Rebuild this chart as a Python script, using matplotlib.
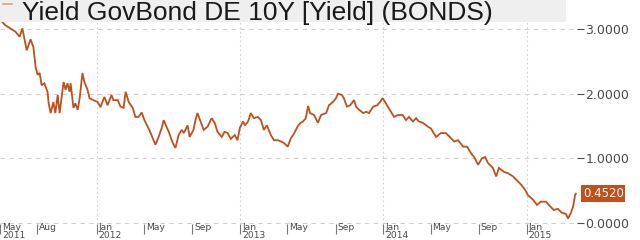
import matplotlib
matplotlib.use("Agg")
import matplotlib.pyplot as plt
import matplotlib.transforms as mtransforms
from matplotlib.patches import Rectangle
from matplotlib.lines import Line2D
import pandas as pd

# Bund 10Y yield
dates = [
    "2011-04-30", "2011-05-13", "2011-05-26", "2011-06-08", "2011-06-19", "2011-06-26",
    "2011-07-07", "2011-07-17", "2011-07-24", "2011-07-30", "2011-08-04", "2011-08-09",
    "2011-08-14", "2011-08-21", "2011-08-29", "2011-09-01", "2011-09-06", "2011-09-13",
    "2011-09-18", "2011-09-24", "2011-09-29", "2011-10-09", "2011-10-14", "2011-10-19",
    "2011-10-24", "2011-10-27", "2011-11-03", "2011-11-08", "2011-11-14", "2011-11-19",
    "2011-11-26", "2011-12-01", "2011-12-09", "2011-12-14", "2011-12-24",
    "2012-01-04", "2012-01-11", "2012-01-21", "2012-01-29", "2012-02-08", "2012-02-13",
    "2012-02-24", "2012-03-02", "2012-03-10", "2012-03-15", "2012-03-23", "2012-04-02",
    "2012-04-09", "2012-04-17", "2012-04-25", "2012-05-02", "2012-05-15", "2012-05-30",
    "2012-06-07", "2012-06-15", "2012-06-20", "2012-06-27", "2012-07-03", "2012-07-13",
    "2012-07-20", "2012-07-28", "2012-08-05", "2012-08-10", "2012-08-20", "2012-08-25",
    "2012-09-04", "2012-09-09", "2012-09-14", "2012-09-22", "2012-09-30", "2012-10-10",
    "2012-10-20", "2012-10-28", "2012-11-04", "2012-11-15", "2012-11-22", "2012-11-30",
    "2012-12-08", "2012-12-18", "2012-12-25", "2012-12-31",
    "2013-01-08", "2013-01-13", "2013-01-21", "2013-01-28", "2013-02-05", "2013-02-15",
    "2013-02-23", "2013-03-02", "2013-03-10", "2013-03-20", "2013-03-28", "2013-04-07",
    "2013-04-15", "2013-04-22", "2013-05-02", "2013-05-10", "2013-05-17", "2013-05-28",
    "2013-06-04", "2013-06-10", "2013-06-17", "2013-06-23", "2013-06-28", "2013-07-08",
    "2013-07-18", "2013-07-26", "2013-08-08", "2013-08-15", "2013-08-25", "2013-09-02",
    "2013-09-07", "2013-09-17", "2013-09-22", "2013-09-30", "2013-10-08", "2013-10-18",
    "2013-10-23", "2013-10-31", "2013-11-10", "2013-11-18", "2013-11-25", "2013-12-06",
    "2013-12-16", "2013-12-23", "2013-12-30",
    "2014-01-07", "2014-01-17", "2014-01-28", "2014-02-07", "2014-02-19", "2014-02-27",
    "2014-03-07", "2014-03-17", "2014-03-25", "2014-04-01", "2014-04-11", "2014-04-24",
    "2014-05-02", "2014-05-15", "2014-05-27", "2014-06-09", "2014-06-19", "2014-06-30",
    "2014-07-10", "2014-07-23", "2014-08-02", "2014-08-12", "2014-08-20", "2014-08-30",
    "2014-09-09", "2014-09-17", "2014-09-24", "2014-10-07", "2014-10-15", "2014-10-22",
    "2014-11-04", "2014-11-14", "2014-11-27", "2014-12-07", "2014-12-18", "2014-12-28",
    "2015-01-04", "2015-01-17", "2015-01-27", "2015-02-06", "2015-02-19", "2015-02-26",
    "2015-03-11", "2015-03-21", "2015-03-31", "2015-04-11", "2015-04-16", "2015-04-23",
    "2015-04-29", "2015-05-04", "2015-05-06",
]
yields = [
    3.15, 3.06, 3.01, 2.96, 2.88, 3.01,
    2.67, 2.84, 2.72, 2.40, 2.29, 2.32,
    2.13, 2.16, 2.03, 1.85, 1.70, 1.87,
    1.70, 1.98, 1.70, 2.18, 2.06, 2.16,
    2.03, 2.16, 1.78, 1.85, 1.75, 1.93,
    2.32, 2.18, 2.06, 1.93, 1.90,
    1.87, 1.79, 1.95, 1.82, 1.98, 1.90,
    1.90, 1.80, 1.78, 2.03, 1.87, 1.78,
    1.64, 1.64, 1.71, 1.59, 1.43, 1.21,
    1.33, 1.47, 1.59, 1.49, 1.41, 1.24,
    1.16, 1.36, 1.44, 1.39, 1.51, 1.33,
    1.44, 1.59, 1.70, 1.57, 1.44, 1.49,
    1.62, 1.55, 1.41, 1.33, 1.41, 1.39,
    1.30, 1.36, 1.28, 1.47,
    1.57, 1.51, 1.57, 1.70, 1.62, 1.64,
    1.59, 1.44, 1.51, 1.36, 1.28, 1.28,
    1.26, 1.24, 1.18, 1.31, 1.37, 1.50,
    1.55, 1.57, 1.62, 1.81, 1.70, 1.67,
    1.55, 1.67, 1.70, 1.82, 1.87, 1.93,
    2.00, 1.98, 1.93, 1.80, 1.82, 1.90,
    1.80, 1.75, 1.70, 1.72, 1.70, 1.80,
    1.82, 1.87, 1.93,
    1.85, 1.75, 1.64, 1.67, 1.67, 1.59,
    1.64, 1.57, 1.62, 1.57, 1.55, 1.49,
    1.46, 1.33, 1.39, 1.39, 1.33, 1.26,
    1.28, 1.18, 1.18, 1.08, 1.02, 0.90,
    1.00, 1.02, 0.93, 0.85, 0.72, 0.85,
    0.79, 0.77, 0.72, 0.66, 0.59, 0.51,
    0.43, 0.36, 0.28, 0.33, 0.33, 0.28,
    0.20, 0.22, 0.16, 0.14, 0.07, 0.15,
    0.25, 0.43, 0.452,
]

tick_dates = ["2011-05-01", "2011-08-01", "2012-01-01", "2012-05-01", "2012-09-01",
              "2013-01-01", "2013-05-01", "2013-09-01", "2014-01-01", "2014-05-01",
              "2014-09-01", "2015-01-01"]
tick_labels = ["May\n2011", "Aug", "Jan\n2012", "May", "Sep", "Jan\n2013", "May", "Sep",
               "Jan\n2014", "May", "Sep", "Jan\n2015"]
year_lines = ["2012-01-01", "2013-01-01", "2014-01-01", "2015-01-01"]
y_ticks = [0, 1, 2, 3]
title = "Yield GovBond DE 10Y [Yield] (BONDS)"

line_col = "#c0501c"
grid_col = "#cfcfcf"
txt_col = "#4a4a4a"

x = pd.to_datetime(dates)

fig = plt.figure(figsize=(6.4, 2.4), dpi=100)
fig.patch.set_facecolor("white")

# title band
fig.patches.append(Rectangle((0, 218 / 240), 566 / 640, 22 / 240, transform=fig.transFigure,
                             facecolor="#efefef", edgecolor="none", zorder=0))
fig.lines.append(Line2D([3 / 640, 12 / 640], [1 - 4 / 240, 1 - 4 / 240], transform=fig.transFigure,
                        color="#d9a07f", lw=1.2))
fig.text(22 / 640, 1 - 20 / 240, title, fontsize=19, family="Liberation Sans",
         color="#1a1a1a", va="baseline", ha="left")

ax = fig.add_axes([0, 16 / 240, 577 / 640, 209 / 240])
ax.set_facecolor("none")
ax.plot(x, yields, color=line_col, lw=1.3, solid_joinstyle="miter", zorder=3)

ax.set_xlim(pd.Timestamp("2011-04-30"), pd.Timestamp("2015-05-09"))
ax.set_ylim(-0.0155, 3.216)

for s in ax.spines.values():
    s.set_visible(False)

for v in y_ticks:
    ax.axhline(v, color=grid_col, lw=0.8, ls=(0, (4, 4)), zorder=1)
for d in year_lines:
    ax.axvline(pd.Timestamp(d), color=grid_col, lw=0.8, ls=(0, (1.5, 2.5)), zorder=1)

ax.yaxis.tick_right()
ax.set_yticks(y_ticks)
ax.set_yticklabels(["%.4f" % v for v in y_ticks])
ax.tick_params(axis="y", length=5, width=0.8, color=txt_col, pad=1,
               labelsize=9, labelcolor=txt_col)

ax.set_xticks(pd.to_datetime(tick_dates))
ax.set_xticklabels(tick_labels)
ax.tick_params(axis="x", length=7, width=0.8, color="#777777", pad=-7.5,
               labelsize=6.6, labelcolor=txt_col)
offset = mtransforms.ScaledTranslation(2 / 100, 0, fig.dpi_scale_trans)
for lab in ax.get_xticklabels():
    lab.set_ha("left")
    lab.set_linespacing(0.82)
    lab.set_transform(lab.get_transform() + offset)

# last value tag
ax.text(1.01, yields[-1], "%.4f" % yields[-1], transform=ax.get_yaxis_transform(),
        fontsize=8.5, color="white", va="center", ha="left",
        bbox=dict(boxstyle="square,pad=0.15", facecolor="#c0501c", edgecolor="none"))

fig.savefig("out.png", dpi=100, facecolor="white")
